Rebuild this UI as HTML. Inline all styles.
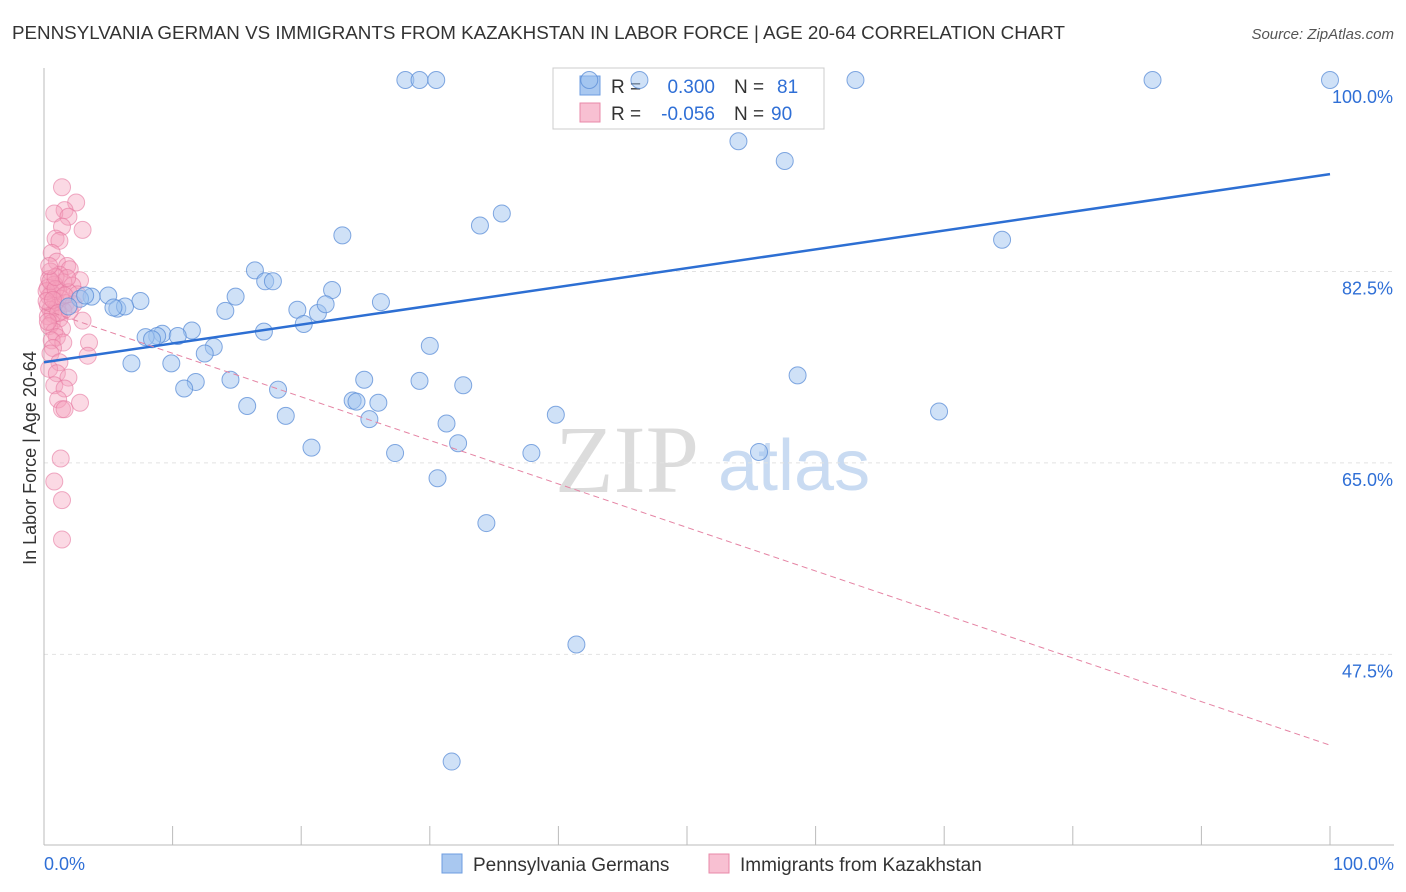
<!DOCTYPE html>
<html><head><meta charset="utf-8"><style>
body{margin:0;background:#fff;font-family:"Liberation Sans",sans-serif;}
svg{display:block}
</style></head><body>
<svg id="chart" width="1406" height="892">
<text x="12" y="39" font-size="18.8" fill="#333">PENNSYLVANIA GERMAN VS IMMIGRANTS FROM KAZAKHSTAN IN LABOR FORCE | AGE 20-64 CORRELATION CHART</text>
<text x="1394" y="39" font-size="15" fill="#555" font-style="italic" text-anchor="end">Source: ZipAtlas.com</text>
<text x="36" y="458" font-size="18" fill="#333" text-anchor="middle" transform="rotate(-90 36 458)">In Labor Force | Age 20-64</text>
<text x="555" y="492" font-size="96" fill="#dcdcdc" font-family="Liberation Serif,serif">ZIP</text>
<text x="718" y="490" font-size="72" fill="#c9dbf2">atlas</text>
<g id="grid"></g><g id="axes"></g>
<g>
<rect x="553" y="68" width="271" height="61" fill="#fff" stroke="#ccc"/>
<rect x="580" y="76" width="20" height="19" fill="#a9c8f0" stroke="#6d9de0"/>
<rect x="580" y="103" width="20" height="19" fill="#f8c0d2" stroke="#e889a8"/>
<text x="611" y="93" font-size="19" fill="#333">R =</text>
<text x="715" y="93" font-size="19" fill="#2f6fd6" text-anchor="end">0.300</text>
<text x="734" y="93" font-size="19" fill="#333">N =</text>
<text x="777" y="93" font-size="19" fill="#2f6fd6">81</text>
<text x="611" y="120" font-size="19" fill="#333">R =</text>
<text x="715" y="120" font-size="19" fill="#2f6fd6" text-anchor="end">-0.056</text>
<text x="734" y="120" font-size="19" fill="#333">N =</text>
<text x="771" y="120" font-size="19" fill="#2f6fd6">90</text>
</g>
<g id="pink"></g><g id="blue"></g><g id="lines"></g>
<g>
<rect x="442" y="854" width="20" height="19" fill="#a9c8f0" stroke="#6d9de0"/>
<text x="473" y="871" font-size="19" fill="#333">Pennsylvania Germans</text>
<rect x="709" y="854" width="20" height="19" fill="#f8c0d2" stroke="#e889a8"/>
<text x="740" y="871" font-size="19" fill="#333">Immigrants from Kazakhstan</text>
</g>
</svg>
<script>
const yTicks=[100,82.5,65,47.5];
const yTickLabels=["100.0%","82.5%","65.0%","47.5%"];
const blueX=[28.1,29.2,30.5,42.4,46.3,63.1,86.2,100,54.0,57.6,35.6,33.9,23.2,74.5,16.4,17.2,17.8,22.4,14.9,19.7,21.3,21.9,26.2,7.5,5.0,3.7,2.8,3.2,5.7,6.3,5.4,1.9,14.1,11.5,17.1,20.2,9.2,8.8,7.9,8.4,10.4,13.2,30.0,12.5,6.8,9.9,58.6,11.8,10.9,14.5,24.9,29.2,32.6,18.2,15.8,24.0,24.3,26.0,69.6,39.8,18.8,25.3,31.3,32.2,20.8,27.3,37.9,55.6,30.6,34.4,41.4,31.7];
const blueY=[100,100,100,100,100,100,100,100,94.4,92.6,87.8,86.7,85.8,85.4,82.6,81.6,81.6,80.8,80.2,79.0,78.7,79.5,79.7,79.8,80.3,80.2,80.0,80.3,79.1,79.3,79.2,79.3,78.9,77.1,77.0,77.7,76.8,76.6,76.5,76.3,76.6,75.6,75.7,75.0,74.1,74.1,73.0,72.4,71.8,72.6,72.6,72.5,72.1,71.7,70.2,70.7,70.6,70.5,69.7,69.4,69.3,69.0,68.6,66.8,66.4,65.9,65.9,66.0,63.6,59.5,48.4,37.7];
const pinkX=[1.4,2.5,1.6,0.8,1.9,3.0,1.4,0.9,1.2,0.6,1.0,1.8,0.5,2.0,1.2,0.4,2.8,1.5,0.8,2.2,0.3,1.1,1.9,0.6,2.6,0.4,1.3,0.9,1.7,0.3,2.3,1.0,0.5,1.5,0.7,0.3,1.2,3.0,0.6,0.4,1.4,0.8,1.0,0.6,1.5,3.5,0.7,0.5,3.4,1.2,0.4,1.0,1.9,0.8,1.6,1.1,2.8,1.4,1.6,1.3,0.8,1.4,1.4,0.2,0.5,0.9,1.6,0.2,0.7,1.1,2.0,0.3,0.9,1.8,0.4];
const pinkY=[90.2,88.8,88.1,87.8,87.5,86.3,86.6,85.5,85.3,84.2,83.4,83.0,82.5,82.7,82.2,81.8,81.7,81.5,81.3,81.2,81.0,80.8,80.6,80.5,80.4,80.2,80.0,79.8,79.6,79.4,79.5,79.2,79.0,78.9,78.6,78.4,78.2,78.0,77.8,77.5,77.3,77.0,76.5,76.2,76.0,76.0,75.5,75.0,74.8,74.2,73.6,73.2,72.8,72.1,71.8,70.8,70.5,69.9,69.9,65.4,63.3,61.6,58.0,80.7,81.6,80.9,80.3,79.8,79.9,78.7,78.9,77.9,82.0,81.9,83.0];
const blueTrend=[74.2,91.4];
const pinkTrend=[79.0,39.2];
const NS="http://www.w3.org/2000/svg";
const X=v=>44+v*12.86;
const Y=v=>80+(100-v)*10.94;
function mk(tag,attrs,parent){const e=document.createElementNS(NS,tag);for(const k in attrs)e.setAttribute(k,attrs[k]);document.getElementById(parent).appendChild(e);return e;}
yTicks.forEach((t,i)=>{
 if(i>0){const g=mk('line',{x1:44,x2:1394,y1:Y(t),y2:Y(t),stroke:'#e2e2e2','stroke-dasharray':'4 4'},'grid');
 
 }
 const l=mk('text',{x:1393,y:Y(t)+23,'font-size':18,fill:'#2f6fd6','text-anchor':'end'},'axes');l.textContent=yTickLabels[i];
 
 
});
mk('line',{x1:44,x2:44,y1:68,y2:845,stroke:'#bbb'},'axes');
mk('line',{x1:44,x2:1394,y1:845,y2:845,stroke:'#bbb'},'axes');
for(let i=0;i<=10;i++){const t=mk('line',{x1:X(i*10),x2:X(i*10),y1:826,y2:845,stroke:'#bbb'},'axes');
 
 }
let a=mk('text',{x:44,y:870,'font-size':18,fill:'#2f6fd6'},'axes');a.textContent='0.0%';


a=mk('text',{x:1394,y:870,'font-size':18,fill:'#2f6fd6','text-anchor':'end'},'axes');a.textContent='100.0%';


pinkX.forEach((x,i)=>{const c=mk('circle',{cx:X(x),cy:Y(pinkY[i]),r:8.5,fill:'rgba(245,160,188,0.4)',stroke:'rgba(230,120,160,0.6)','stroke-width':1},'pink');
 
 });
blueX.forEach((x,i)=>{const c=mk('circle',{cx:X(x),cy:Y(blueY[i]),r:8.5,fill:'rgba(160,195,240,0.5)',stroke:'rgba(90,140,215,0.75)','stroke-width':1},'blue');
 
 });
let ln=mk('line',{x1:X(0),y1:Y(blueTrend[0]),x2:X(100),y2:Y(blueTrend[1]),stroke:'#2d6fd3','stroke-width':2.5},'lines');


ln=mk('line',{x1:X(0),y1:Y(pinkTrend[0]),x2:X(100),y2:Y(pinkTrend[1]),stroke:'#e584a4','stroke-width':1,'stroke-dasharray':'6 4'},'lines');


</script>
</body></html>
